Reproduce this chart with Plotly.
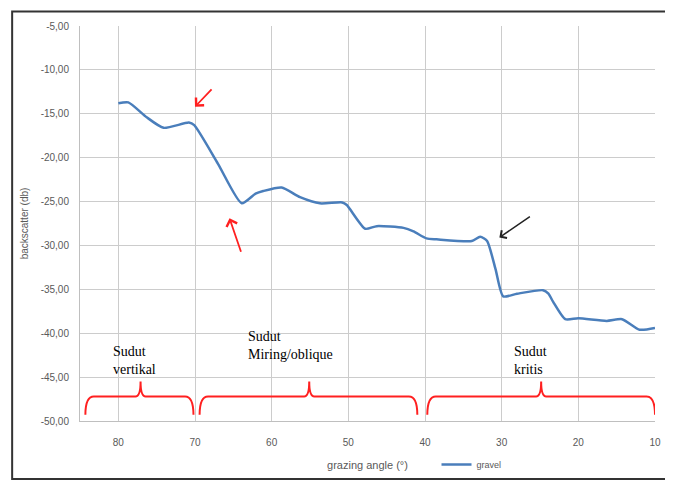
import plotly.graph_objects as go

# ---- data ----
angle = [80.0, 78.7, 76.3, 74.1, 70.8, 70.1, 67.0, 63.9, 62.1, 61.1, 58.7, 56.3,
         53.7, 50.8, 50.2, 47.8, 46.3, 42.8, 41.5, 39.8, 38.5, 33.9, 32.8, 31.9,
         30.8, 29.8, 28.0, 24.6, 23.9, 23.3, 21.7, 20.0, 16.3, 14.3, 12.0, 10.0]
gravel = [-13.8, -13.7, -15.4, -16.6, -16.0, -16.3, -20.7, -25.2, -24.1, -23.8,
          -23.4, -24.5, -25.2, -25.1, -25.4, -28.1, -27.8, -28.0, -28.4, -29.2,
          -29.3, -29.5, -29.0, -29.5, -32.7, -35.8, -35.5, -35.1, -35.5, -36.4,
          -38.4, -38.3, -38.6, -38.4, -39.6, -39.4]

x_ticks = [80, 70, 60, 50, 40, 30, 20, 10]
y_ticks = [-5, -10, -15, -20, -25, -30, -35, -40, -45, -50]
y_ticktext = ["-5,00", "-10,00", "-15,00", "-20,00", "-25,00", "-30,00",
              "-35,00", "-40,00", "-45,00", "-50,00"]

# zones: (left angle, right angle, centre angle)
zones = [(84.3, 70.2, 77.1), (69.4, 41.0, 55.1), (39.7, 10.0, 24.85)]
zone_labels = ["Sudut<br>vertikal", "Sudut<br>Miring/oblique", "Sudut<br>kritis"]
zone_label_pos = [(81.0, -41.0), (63.3, -39.3), (28.6, -41.0)]

fig = go.Figure()
fig.add_trace(go.Scatter(
    x=angle, y=gravel, mode="lines", name="gravel",
    line=dict(color="#4a7ebb", width=2.5, shape="spline", smoothing=0.6),
))

# braces
y_top, y_bot, y_tip = -47.2, -49.3, -45.5
r = 1.1
for (a0, a1, ac) in zones:
    p = (f"M {a0},{y_bot} Q {a0},{y_top} {a0 - r},{y_top} "
         f"L {ac + r*0.6},{y_top} Q {ac},{y_top} {ac},{y_tip} "
         f"Q {ac},{y_top} {ac - r*0.6},{y_top} "
         f"L {a1 + r},{y_top} Q {a1},{y_top} {a1},{y_bot}")
    fig.add_shape(type="path", path=p, xref="x", yref="y",
                  line=dict(color="#ff2020", width=2))

for txt, (xa, ya) in zip(zone_labels, zone_label_pos):
    fig.add_annotation(x=xa, y=ya, text=txt, showarrow=False, xanchor="left",
                       yanchor="top", align="left",
                       font=dict(family="Liberation Serif", size=14, color="black"))

# arrows
fig.add_annotation(x=70.0, y=-14.2, ax=18, ay=-19, text="", showarrow=True,
                   arrowhead=4, arrowsize=1.2, arrowwidth=1.8, arrowcolor="#ff2020")
fig.add_annotation(x=65.5, y=-26.9, ax=12, ay=35, text="", showarrow=True,
                   arrowhead=4, arrowsize=1.2, arrowwidth=1.8, arrowcolor="#ff2020")
fig.add_annotation(x=30.3, y=-29.1, ax=32, ay=-22, text="", showarrow=True,
                   arrowhead=4, arrowsize=1.2, arrowwidth=1.5, arrowcolor="#222222")

# outer frame
fig.add_shape(type="rect", xref="paper", yref="paper",
              x0=-0.118, x1=1.0243, y0=-0.147, y1=1.037,
              line=dict(color="#333333", width=2))

fig.update_layout(
    width=665, height=483,
    margin=dict(l=72, r=18, t=16, b=66),
    paper_bgcolor="white", plot_bgcolor="white",
    font=dict(family="Liberation Sans", color="#595959", size=10),
    showlegend=True,
    legend=dict(x=0.62, y=-0.11, xanchor="left", yanchor="middle",
                font=dict(size=9, color="#595959"), bgcolor="rgba(0,0,0,0)",
                itemwidth=30),
    xaxis=dict(range=[85, 10], tickvals=x_ticks, ticktext=[str(v) for v in x_ticks],
               showgrid=True, gridcolor="#cccccc", gridwidth=1,
               showline=True, linecolor="#bfbfbf", zeroline=False, ticks="",
               ticklabelstandoff=12,
               title=dict(text="grazing angle (°)", font=dict(size=11, color="#595959"),
                          standoff=14)),
    yaxis=dict(range=[-50, -5], tickvals=y_ticks, ticktext=y_ticktext,
               showgrid=True, gridcolor="#cccccc", gridwidth=1,
               showline=True, linecolor="#bfbfbf", zeroline=False, ticks="",
               ticklabelstandoff=8,
               title=dict(text="backscatter (db)", font=dict(size=10, color="#595959"),
                          standoff=10)),
)

fig.write_html("out.html")
